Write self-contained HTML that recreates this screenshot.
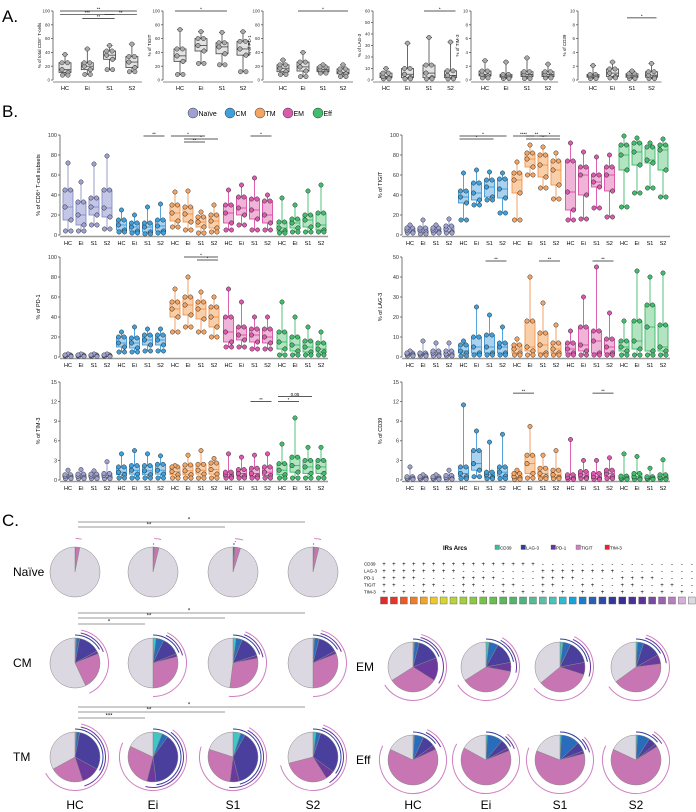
<!DOCTYPE html>
<html><head><meta charset="utf-8">
<style>
html,body{margin:0;padding:0;background:#fff;}
svg{display:block;font-family:"Liberation Sans",Arial,sans-serif;}
</style></head>
<body>
<svg id="fig" width="696" height="812" viewBox="0 0 696 812" xmlns="http://www.w3.org/2000/svg">
<text x="2" y="22" font-size="17">A.</text>
<text x="2" y="117" font-size="17">B.</text>
<text x="2" y="526" font-size="17">C.</text>
</svg>
<script>
// ---------- DATA ----------
const groupLabels = ["HC","Ei","S1","S2"];
const subsetNames = ["Naïve","CM","TM","EM","Eff"];
const aTitles = ["% of total CD8⁺ T-cells","% of TIGIT","% of PD-1","% of LAG-3","% of TIM-3","% of CD39"];
const aMax = [100,100,100,60,10,10];
const aStep = [20,20,20,10,2,2];
const aCD8 = [[7,11,15,25,37],[8,15,20,25,45],[15,30,36,42,50],[12,18,26,34,52]];
const aTIGIT = [[8,27,35,45,73],[24,42,50,60,70],[22,38,48,54,69],[12,36,45,56,70]];
const aPD1 = [[8,12,17,22,29],[5,13,19,26,40],[10,12,15,19,22],[5,9,11,16,22]];
const aLAG3 = [[1,2,3,6,10],[1,2,5,10,32],[1,2,6,13,37],[1,2,4,8,33]];
const aTIM3 = [[0.3,0.6,0.8,1.3,2.8],[0.2,0.4,0.6,0.8,2.6],[0.2,0.5,0.8,1.2,3.2],[0.3,0.5,0.8,1.2,2.3]];
const aCD39 = [[0.2,0.4,0.6,0.8,2.1],[0.3,0.5,1.0,1.6,2.6],[0.2,0.4,0.6,0.9,1.3],[0.2,0.4,0.7,1.2,2.4]];
const aSig = [[0,0,3,100,"**"],[0,0,2,95,"***"],[0,2,3,95,"**"],[0,1,2,89,"**"],[1,0,2,100,"*"],[2,1,3,100,"*"],[3,2,3,60,"*"],[5,2,3,9,"*"]];

const bTitles = ["% of CD8⁺ T-cell subsets","% of PD-1","% of TIM-3","% of TIGIT","% of LAG-3","% of CD39"];
const bMax = [100,100,15,100,50,15];
const bStep = [20,20,3,20,10,3];
const bSubsets = [
  [[4,15,28,45,72],[4,10,20,33,53],[10,20,28,37,71],[6,18,27,45,79]],
  [[3,5,10,15,25],[2,4,8,12,20],[1,3,8,12,28],[2,4,9,15,31]],
  [[8,14,22,30,43],[5,13,21,28,44],[2,8,13,18,23],[3,7,14,20,30]],
  [[5,12,22,30,45],[10,20,27,38,50],[5,16,25,36,57],[5,12,20,34,40]],
  [[2,4,7,13,37],[3,7,12,16,30],[3,8,15,20,44],[3,5,10,22,50]]];
const bPD1 = [
  [[0.5,1,1.5,2,3],[0.5,1,1.5,2,3],[0.5,1,1.5,2,3],[0.5,1,1.5,2,3]],
  [[5,10,14,20,25],[5,9,14,19,30],[6,12,17,22,28],[6,12,17,22,28]],
  [[25,40,48,55,68],[30,42,52,60,80],[25,38,48,55,65],[20,30,40,50,60]],
  [[10,15,25,40,68],[10,17,22,30,55],[8,15,22,28,40],[8,14,20,28,40]],
  [[2,8,15,25,55],[2,6,12,20,40],[2,5,10,16,30],[2,5,8,14,25]]];
const bTIM3 = [
  [[0.2,0.4,0.6,0.8,1.5],[0.2,0.4,0.6,0.9,1.6],[0.2,0.4,0.6,0.9,1.4],[0.2,0.4,0.7,1,2.8]],
  [[0.3,0.8,1.2,2,4],[0.3,0.9,1.5,2.2,4.5],[0.3,0.8,1.4,2.2,4],[0.3,0.9,1.5,2.4,3.7]],
  [[0.3,0.8,1.3,2,2.2],[0.3,0.8,1.4,2.3,3.8],[0.3,0.9,1.5,2.4,4.5],[0.3,0.9,1.6,2.6,3.3]],
  [[0.3,0.5,0.8,1.2,4],[0.3,0.6,1,1.6,3.5],[0.3,0.6,1,1.8,3.8],[0.3,0.7,1.2,2,4]],
  [[0.3,0.8,1.5,2.5,5.5],[0.3,1.2,2.2,3.5,9.5],[0.3,1,2,3,5],[0.3,1,2,3,5]]];
const bTIGIT = [
  [[2,3,5,7,10],[1,3,5,7,15],[2,3,5,7,10],[2,3,6,9,16]],
  [[15,32,38,44,62],[30,35,42,52,65],[35,38,48,55,63],[22,37,46,56,62]],
  [[15,42,55,62,73],[60,68,76,82,90],[47,58,70,80,88],[36,50,65,74,82]],
  [[15,25,43,74,92],[16,40,60,68,83],[27,48,53,60,78],[18,44,60,68,80]],
  [[28,65,80,90,99],[42,70,83,92,97],[47,72,75,88,92],[38,65,85,90,96]]];
const bLAG3 = [
  [[0.5,1,1.5,2,3],[0.5,1,1.5,2,8],[0.5,1,2,3,7],[0.5,1,1.5,3,7]],
  [[0.5,2,3,6,8],[1,2,5,10,25],[1,2,5,11,21],[1,2,5,7,15]],
  [[1,2,4,6,9],[1,3,5,18,40],[1,2,6,12,27],[1,2,4,7,16]],
  [[1,2,4,7,13],[1,3,6,15,30],[1,2,8,13,45],[1,2,5,9,22]],
  [[1,3,5,8,18],[1,4,8,18,43],[1,3,15,26,40],[1,3,5,16,42]]];
const bCD39 = [
  [[0.1,0.2,0.3,0.5,2],[0.1,0.2,0.3,0.5,0.8],[0.1,0.2,0.3,0.5,0.8],[0.1,0.2,0.4,0.7,1.5]],
  [[0.2,0.5,1,2,11.5],[0.5,1.5,2.5,4.5,7.5],[0.2,0.4,0.8,1.2,5.8],[0.2,0.6,1.2,2,7]],
  [[0.1,0.3,0.5,1,1.5],[0.3,1,2.5,3.8,8.2],[0.2,0.5,1,1.8,3.8],[0.2,0.4,0.8,1.5,4.5]],
  [[0.1,0.2,0.4,0.8,6.2],[0.2,0.4,0.8,1.3,3],[0.1,0.2,0.5,1,3],[0.2,0.5,1,1.5,3.4]],
  [[0.1,0.2,0.3,0.6,4],[0.1,0.2,0.5,1,3.6],[0.1,0.2,0.3,0.5,1.8],[0.1,0.2,0.4,0.8,3.1]]];
const bSig = [[0,1,2,3,99,"**"],[0,2,0,2,99,"*"],[0,2,1,3,96,"*"],[0,2,1,2,93,"**"],[0,3,2,3,99,"*"],
  [1,2,1,3,100,"*"],[1,2,2,3,97,"*"],[2,3,2,3,12,"**"],[2,4,0,2,12.8,"0.05"],[2,4,0,1,12,"*"],
  [3,1,0,3,99,"*"],[3,1,0,2,96,"*"],[3,2,0,1,99,"****"],[3,2,1,2,99,"**"],[3,2,2,3,99,"*"],[3,2,1,3,96,"*"],
  [4,1,2,3,48,"**"],[4,2,2,3,48,"**"],[4,3,2,3,48,"**"],[5,2,0,1,13.3,"**"],[5,3,2,3,13.3,"**"]];

const pieNaive = [[0,0.3,0,0.3,2.5,96.9],[0,0.6,0,0.3,3,96.1],[0,1,0,0.4,3.5,95.1],[0,0.6,0,0.3,3,96.1]];
const pieCM = [[1,2,14,2,24,57],[2,5,12,2,29,50],[2,4,14,2,30,48],[1,3,13,2,31,50]];
const pieTM = [[1,2,30,12,22,33],[6,4,38,6,28,18],[5,3,38,6,28,20],[2,3,30,6,30,29]];
const pieEM = [[1,3,15,15,32,34],[2,6,14,6,38,34],[2,5,15,8,34,36],[1,4,12,6,42,35]];
const pieEff = [[1,6,8,3,64,18],[1,10,6,2,64,17],[1,12,6,2,60,19],[1,8,5,2,66,18]];
const cSig = [[0,0,3,"*"],[0,0,2,"**"],[1,0,3,"*"],[1,0,2,"**"],[1,0,1,"*"],[2,0,3,"*"],[2,0,2,"**"],[2,0,1,"***"]];
const irNames = ["CD39","LAG-3","PD-1","TIGIT","TIM-3"];
const irColors = ["#3dbb9a","#2e3f9e","#6a36a0","#cf80c2","#e8262b"];
const comboColors = ["#e52a2a","#e8352a","#ec5a2a","#ef7d2a","#f2a52a","#f0c82a","#d8d62e","#b8d43a","#a2cf40","#8cc845","#78c24b","#6abd50","#5cb85a","#52b56a","#4fb47e","#58bb94","#5cc0a8","#4bc2bb","#2dbcd2","#14a4de","#1e7ccc","#2a5fb8","#2f4aa6","#32399a","#383096","#4a3196","#5c3398","#7a4aa2","#9a62b0","#b87ec0","#d7afd8","#dcdae0"];

// ---------- HELPERS ----------
const svg = document.getElementById('fig');
const NS = "http://www.w3.org/2000/svg";
function mk(tag, attrs, parent){
  const e = document.createElementNS(NS, tag);
  for (const k in attrs) e.setAttribute(k, attrs[k]);
  (parent||svg).appendChild(e);
  return e;
}
function txt(x,y,s,size,parent,extra){
  const t = mk('text', Object.assign({x:x,y:y,'font-size':size}, extra||{}), parent);
  t.textContent = s;
  return t;
}
function lin(v,max,y0,y1){ return y0 - v/max*(y0-y1); }

function drawBox(parent, cx, w, st, max, y0, y1, stroke, fill, dotFill){
  const ys = st.map(v=>lin(v,max,y0,y1));
  mk('line',{x1:cx,x2:cx,y1:ys[0],y2:ys[4],stroke:stroke,'stroke-width':0.8},parent);
  mk('line',{x1:cx-w/4,x2:cx+w/4,y1:ys[4],y2:ys[4],stroke:stroke,'stroke-width':0.8},parent);
  mk('line',{x1:cx-w/4,x2:cx+w/4,y1:ys[0],y2:ys[0],stroke:stroke,'stroke-width':0.8},parent);
  mk('rect',{x:cx-w/2,y:ys[3],width:w,height:Math.max(0.5,ys[1]-ys[3]),fill:fill,stroke:stroke,'stroke-width':0.8},parent);
  mk('line',{x1:cx-w/2,x2:cx+w/2,y1:ys[2],y2:ys[2],stroke:stroke,'stroke-width':0.8},parent);
  const offs=[-2.5,3,-3,2.5,0];
  st.forEach((v,i)=>{
    const d = mk('circle',{cx:cx+offs[i],cy:ys[i],r:2.2,fill:dotFill,stroke:'#333','stroke-width':0.5},parent);
    
    
  });
  [[1,3],[2,-3],[3,-3],[0,3]].forEach(p=>{
    const d = mk('circle',{cx:cx+p[1],cy:ys[p[0]],r:2.2,fill:dotFill,stroke:'#333','stroke-width':0.5},parent);
    
    
  });
}
function yAxis(parent, x, y0, y1, max, step, fs){
  mk('line',{x1:x,x2:x,y1:y0,y2:y1,stroke:'#555','stroke-width':0.8},parent);
  for(let v=0; v<=max+1e-9; v+=step){
    const y = lin(v,max,y0,y1);
    mk('line',{x1:x-2,x2:x,y1:y,y2:y,stroke:'#555','stroke-width':0.8},parent);
    txt(x-3,y+fs*0.35,String(Math.round(v*100)/100),fs,parent,{'text-anchor':'end',fill:'#333'});
  }
}
function sigBar(parent,x1,x2,y,label,fs){
  mk('line',{x1:x1,x2:x2,y1:y,y2:y,stroke:'#222','stroke-width':0.7},parent);
  txt((x1+x2)/2,y-0.5,label,fs,parent,{'text-anchor':'middle'});
}

// ---------- PANEL A ----------
const aData = [aCD8,aTIGIT,aPD1,aLAG3,aTIM3,aCD39];
const aAxisX = [53,163,263,373,471,578];
const aFirst = [65,180,283,386,485,593];
const aSpace = [22.3,21,20,21.5,21,19.5];
const A_Y0 = 80, A_Y1 = 11;
aData.forEach((data,c)=>{
  const g = mk('g',{});
  
  
  const ax = aAxisX[c];
  yAxis(g, ax, A_Y0, A_Y1, aMax[c], aStep[c], 4.5);
  mk('line',{x1:ax,x2:aFirst[c]+3*aSpace[c]+10,y1:A_Y0+2,y2:A_Y0+2,stroke:'#888','stroke-width':1},g);
  const t = txt(0,0,aTitles[c],4.5,g,{'text-anchor':'middle',transform:`translate(${ax-12},${(A_Y0+A_Y1)/2}) rotate(-90)`});
  
  
  data.forEach((st,i)=>{
    const cx = aFirst[c]+i*aSpace[c];
    drawBox(g,cx,12,st,aMax[c],A_Y0,A_Y1,'#444','#e2e2e2','#aaa');
    txt(cx,A_Y0+10,groupLabels[i],5.5,g,{'text-anchor':'middle'});
  });
});
aSig.forEach(s=>{
  const c=s[0];
  const y = lin(s[3],aMax[c],A_Y0,A_Y1);
  sigBar(svg,aFirst[c]+s[1]*aSpace[c]-5,aFirst[c]+s[2]*aSpace[c]+5,y,s[4],4.5);
});

// ---------- PANEL B ----------
const subColors = ["#7f84c2","#2a8fd2","#f08a3c","#d63c9c","#27b25a"];
const subFill = ["#c3c6e6","#a8d2f0","#f9cfa9","#f1b4d9","#b3e4c2"];
const subDot = ["#9ea2d2","#3fa0dc","#f4a463","#dc5aae","#3fbf6c"];
subsetNames.forEach((n,i)=>{
  const lx=[193,230,260,288,318][i];
  const gl = mk('g',{});
  
  
  mk('circle',{cx:lx,cy:113,r:5,fill:subDot[i],stroke:'#333','stroke-width':0.5},gl);
  txt(lx+5.5,116,n,7,gl);
});
const bData = [bSubsets,bPD1,bTIM3,bTIGIT,bLAG3,bCD39];
const bAxisX = [60,60,60,402,402,402];
const bRows = [[235,135],[357,257],[480,382]];
bData.forEach((data,c)=>{
  const g = mk('g',{});
  
  
  const ax=bAxisX[c], r=bRows[c%3];
  yAxis(g,ax,r[0],r[1],bMax[c],bStep[c],5.5);
  mk('line',{x1:ax,x2:ax+268,y1:r[0]+1.5,y2:r[0]+1.5,stroke:'#999','stroke-width':1.5},g);
  const t = txt(0,0,bTitles[c],5.5,g,{'text-anchor':'middle',transform:`translate(${ax-20},${(r[0]+r[1])/2}) rotate(-90)`});
  
  
  data.forEach((grp,s)=>{
    grp.forEach((st,i)=>{
      const cx = ax+8+s*53.5+i*13;
      drawBox(g,cx,10,st,bMax[c],r[0],r[1],subColors[s],subFill[s],subDot[s]);
      txt(cx,r[0]+10,groupLabels[i],5.5,g,{'text-anchor':'middle'});
    });
  });
});
bSig.forEach(s=>{
  const c=s[0], ax=bAxisX[c], r=bRows[c%3];
  const y = lin(s[4],bMax[c],r[0],r[1]);
  sigBar(svg,ax+8+s[1]*53.5+s[2]*13-4,ax+8+s[1]*53.5+s[3]*13+4,y,s[5],4.5);
});

// ---------- PANEL C ----------
const sliceColors = ["#3fc7c6","#2a6cbc","#4a3f9c","#6c3a9c","#c875b4","#dcd8e2"];
function pie(cx,cy,r,vals,name){
  const g = mk('g',{});
  
  
  const tot = vals.reduce((a,b)=>a+b,0);
  let a0 = -Math.PI/2;
  const bounds=[];
  vals.forEach((v,i)=>{
    const a1 = a0 + v/tot*2*Math.PI;
    bounds.push([a0,a1]);
    if(v>0){
      const large = (a1-a0)>Math.PI?1:0;
      const p = mk('path',{d:`M${cx},${cy} L${cx+r*Math.cos(a0)},${cy+r*Math.sin(a0)} A${r},${r} 0 ${large} 1 ${cx+r*Math.cos(a1)},${cy+r*Math.sin(a1)} Z`,fill:sliceColors[i],stroke:'#888','stroke-width':0.5},g);
      
      
    }
    a0=a1;
  });
  const arcDefs=[[0,2,r+3,'#2e3f9e'],[2,3,r+5.5,'#6a36a0'],[2,4,r+8.5,'#cf80c2']];
  arcDefs.forEach(d=>{
    const s=bounds[d[0]][0], e=bounds[d[1]][1], R=d[2];
    if(e-s<0.02) return;
    const large=(e-s)>Math.PI?1:0;
    mk('path',{d:`M${cx+R*Math.cos(s)},${cy+R*Math.sin(s)} A${R},${R} 0 ${large} 1 ${cx+R*Math.cos(e)},${cy+R*Math.sin(e)}`,fill:'none',stroke:d[3],'stroke-width':1},g);
  });
  return g;
}
const leftX=[75,153,233,313], rightX=[413,486,560,636];
const leftRows=[[pieNaive,572,"Naïve"],[pieCM,663,"CM"],[pieTM,757,"TM"]];
leftRows.forEach(row=>{
  txt(13,row[1]+4,row[2],12,svg);
  row[0].forEach((v,i)=>pie(leftX[i],row[1],25,v,'pie-'+row[2].toLowerCase().replace('ï','i')+'-'+groupLabels[i].toLowerCase()));
});
const rightRows=[[pieEM,667,"EM"],[pieEff,760,"Eff"]];
rightRows.forEach(row=>{
  txt(356,row[1]+4,row[2],12,svg);
  row[0].forEach((v,i)=>pie(rightX[i],row[1],25,v,'pie-'+row[2].toLowerCase()+'-'+groupLabels[i].toLowerCase()));
});
groupLabels.forEach((l,i)=>{
  txt(leftX[i],809,l,12,svg,{'text-anchor':'middle'});
  txt(rightX[i],809,l,12,svg,{'text-anchor':'middle'});
});
const cSigY=[[522,527],[613,618,624],[707,712,718]];
const rowCount=[0,0,0];
cSig.forEach(s=>{
  const y = cSigY[s[0]][rowCount[s[0]]++];
  mk('line',{x1:leftX[s[1]]+3,x2:leftX[s[2]]-8,y1:y,y2:y,stroke:'#777','stroke-width':0.8});
  txt((leftX[s[1]]+leftX[s[2]])/2-5,y-0.5,s[3],6,svg,{'text-anchor':'middle'});
});
txt(455,550,"IRs Arcs",6,svg,{'font-weight':'bold','text-anchor':'middle'});
irNames.forEach((n,i)=>{
  const lx=[500,526,556,581,610][i];
  const gl=mk('g',{});
  
  
  mk('rect',{x:lx-5,y:545,width:4.5,height:4.5,fill:irColors[i],stroke:'#555','stroke-width':0.3},gl);
  txt(lx,549.5,n,4.5,gl);
});
const tableY=[564,571,578,585,592];
irNames.forEach((n,ri)=>{
  txt(364,tableY[ri]+1.5,n,4.5,svg);
  for(let c=0;c<32;c++){
    const bit = (c>>(4-ri))&1;
    txt(384+c*9.93,tableY[ri]+2,bit?"-":"+",6,svg,{'text-anchor':'middle'});
  }
});
comboColors.forEach((col,c)=>{
  const r=mk('rect',{x:384+c*9.93-3.5,y:597,width:7,height:7,fill:col,stroke:'#555','stroke-width':0.4});
  
  
});
</script>
</body></html>
